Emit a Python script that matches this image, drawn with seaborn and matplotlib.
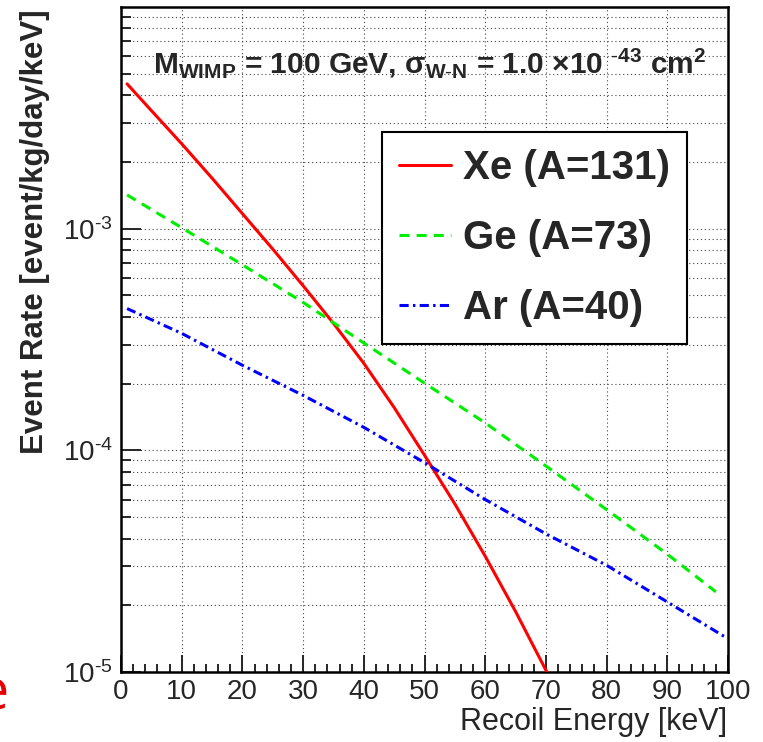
import matplotlib
matplotlib.use("Agg")
import matplotlib.pyplot as plt
import seaborn as sns
import pandas as pd
import numpy as np
from matplotlib.ticker import FixedLocator, FuncFormatter, MultipleLocator, LogLocator, NullFormatter

# ---- data ----
energy_xe = [1, 5, 10, 15, 20, 25, 30, 35, 40, 45, 50, 55, 60, 65, 70, 71]
rate_xe = [4.50e-3, 3.41e-3, 2.415e-3, 1.69e-3, 1.169e-3, 8.09e-4, 5.53e-4, 3.74e-4,
           2.47e-4, 1.56e-4, 9.51e-5, 5.73e-5, 3.33e-5, 1.875e-5, 1.019e-5, 9.0e-6]
energy_ge = [1, 10, 20, 30, 40, 50, 60, 70, 80, 90, 98]
rate_ge = [1.42e-3, 1.01e-3, 6.87e-4, 4.65e-4, 3.05e-4, 2.01e-4, 1.33e-4, 8.5e-5,
           5.4e-5, 3.4e-5, 2.3e-5]
energy_ar = [1, 10, 20, 30, 40, 50, 60, 70, 80, 90, 99.5]
rate_ar = [4.36e-4, 3.37e-4, 2.42e-4, 1.77e-4, 1.27e-4, 8.8e-5, 6.0e-5, 4.2e-5,
           3.03e-5, 2.07e-5, 1.44e-5]
labels = ["Xe (A=131)", "Ge (A=73)", "Ar (A=40)"]
x_ticks = [0, 10, 20, 30, 40, 50, 60, 70, 80, 90, 100]
y_ticks = [1e-5, 1e-4, 1e-3]

sns.set_style("white")
plt.rcParams["font.family"] = ["Liberation Sans", "DejaVu Sans"]
plt.rcParams["mathtext.fontset"] = "custom"
plt.rcParams["mathtext.rm"] = "Liberation Sans"
plt.rcParams["mathtext.bf"] = "Liberation Sans:bold"
plt.rcParams["mathtext.it"] = "Liberation Sans:italic"

fig = plt.figure(figsize=(7.63, 7.42), dpi=100)
ax = fig.add_axes([121 / 763, 1 - 672 / 742, 607 / 763, 665 / 742])

df_xe = pd.DataFrame({"E": energy_xe, "R": rate_xe})
df_ge = pd.DataFrame({"E": energy_ge, "R": rate_ge})
df_ar = pd.DataFrame({"E": energy_ar, "R": rate_ar})

lw = 2.2
sns.lineplot(data=df_xe, x="E", y="R", ax=ax, color="#ff0000", lw=lw, label=labels[0], zorder=5)
sns.lineplot(data=df_ge, x="E", y="R", ax=ax, color="#00ee00", lw=lw, label=labels[1],
             dashes=False, zorder=5)
sns.lineplot(data=df_ar, x="E", y="R", ax=ax, color="#0000ff", lw=lw, label=labels[2],
             dashes=False, zorder=5)
ax.lines[1].set_dashes((3.3, 2.3))
ax.lines[2].set_dashes((3.0, 1.4, 0.8, 1.4))

ax.set_yscale("log")
ax.set_xlim(0, 100)
ax.set_ylim(1e-5, 1e-2)

ax.xaxis.set_major_locator(FixedLocator(x_ticks))
ax.xaxis.set_minor_locator(MultipleLocator(2))
ax.xaxis.set_major_formatter(FuncFormatter(lambda v, p: f"{v:g}"))
ax.yaxis.set_major_locator(FixedLocator(y_ticks))
ax.yaxis.set_minor_locator(LogLocator(base=10, subs=np.arange(2, 10)))
ax.yaxis.set_minor_formatter(NullFormatter())
ax.yaxis.set_major_formatter(FuncFormatter(
    lambda v, p: r"$\mathregular{10^{\text{-}%d}}$" % abs(int(round(np.log10(v))))))

ax.tick_params(axis="x", which="major", direction="in", length=12, width=1.4,
               labelsize=20, pad=5, bottom=True, top=False)
ax.tick_params(axis="x", which="minor", direction="in", length=6, width=1.4,
               bottom=True, top=False)
ax.tick_params(axis="y", which="major", direction="in", length=14.4, width=1.4,
               labelsize=20, pad=6, left=True, right=False)
ax.tick_params(axis="y", which="minor", direction="in", length=7, width=1.4,
               left=True, right=False)

for s in ax.spines.values():
    s.set_visible(True)
    s.set_linewidth(1.8)
    s.set_color("black")

grid_kw = dict(color="#444444", linewidth=0.8, linestyle=(0, (1, 2.5)))
ax.grid(True, which="major", axis="x", **grid_kw)
ax.grid(True, which="both", axis="y", **grid_kw)
ax.set_axisbelow(True)

ax.set_xlabel("Recoil Energy [keV]", fontsize=22, loc="right")
ax.xaxis.set_label_coords(0.998, -0.052)
ax.set_ylabel("Event Rate [event/kg/day/keV]", fontsize=22.5, fontweight="bold", loc="top")
ax.yaxis.set_label_coords(-0.117, 0.996)

ax.text(0.053, 0.90,
        r"M$_{\mathbf{WIMP}}$ = 100 GeV, σ$_{\mathbf{W\text{-}N}}$ = 1.0 ×10 $^{\mathbf{\text{-}43}}$ cm$^{\mathbf{2}}$",
        transform=ax.transAxes, fontsize=21.5, fontweight="bold", ha="left", va="baseline",
        zorder=6)

leg = ax.legend(loc="upper left", bbox_to_anchor=(0.43, 0.812), frameon=True,
                fancybox=False, prop={"size": 29, "weight": "bold"},
                handlelength=1.3, handletextpad=0.3, labelspacing=0.8,
                borderpad=0.42, borderaxespad=0.0)
leg.get_frame().set_edgecolor("black")
leg.get_frame().set_linewidth(1.5)
leg.get_frame().set_alpha(1)
leg.set_zorder(10)

fig.text(9 / 763, 1 - 710 / 742, "e", color="#e60000", fontsize=40, ha="right",
         va="baseline", family=["Open Sans", "DejaVu Sans"])

fig.savefig("out.png", dpi=100)
